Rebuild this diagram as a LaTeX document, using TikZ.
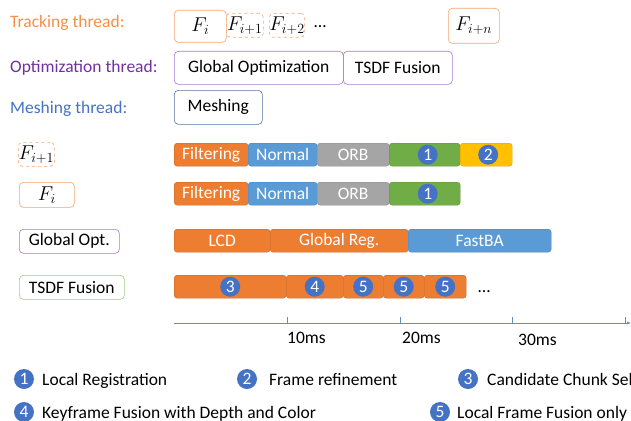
\RequirePackage{fix-cm}
\documentclass[tikz,border=0pt]{standalone}
\usepackage{fontspec}
\setmainfont{Carlito}
\usepackage{amsmath}
\usetikzlibrary{positioning,arrows.meta}

\definecolor{trkorange}{RGB}{244,142,72}
\definecolor{boxorange}{RGB}{244,165,110}
\definecolor{optpurple}{RGB}{112,48,160}
\definecolor{boxpurple}{RGB}{166,120,210}
\definecolor{meshblue}{RGB}{68,114,196}
\definecolor{boxslate}{RGB}{88,118,158}
\definecolor{boxgreen}{RGB}{160,205,130}
\definecolor{barorange}{RGB}{237,125,49}
\definecolor{barblue}{RGB}{91,155,213}
\definecolor{bargray}{RGB}{165,165,165}
\definecolor{bargreen}{RGB}{112,173,71}
\definecolor{baryellow}{RGB}{255,192,0}
\definecolor{numblue}{RGB}{68,114,196}
\definecolor{axisblue}{RGB}{100,140,200}

\tikzset{
  frame/.style={draw=#1,semithick,rounded corners=4pt,inner sep=0pt,anchor=north west},
  bar/.style={draw=#1!85!black,fill=#1,text=white,rounded corners=3pt,inner sep=0pt,
    minimum height=23,anchor=north west},
  numdot/.style={circle,fill=numblue,text=white,inner sep=0pt,minimum size=20},
  lbl/.style={anchor=base west,inner sep=0pt},
  mathbig/.style={font=\fontsize{20}{24}\selectfont}
}

\begin{document}
\begin{tikzpicture}[x=1pt,y=-1pt,font=\fontsize{17.5}{21}\selectfont]
  \useasboundingbox (0,0) rectangle (631,420);
  \clip (0,0) rectangle (631,420);

  % thread labels
  \node[lbl,text=trkorange] (trk) at (10,28) {Tracking thread:};
  \node[lbl,text=optpurple] (opt) at (10,72) {Optimization thread:};
  \node[lbl,text=meshblue] (msh) at (10,113) {Meshing thread:};

  % threads
  \begin{scope}[every node/.style={frame=boxorange,mathbig}]
    \node[minimum width=52,minimum height=32] (fi) at (174,10) {$F_i$};
    \node[dashed,minimum width=37,minimum height=24] (fi1) at (226,13) {$F_{i+1}$};
    \node[dashed,minimum width=34,minimum height=24] (fi2) at (269,13) {$F_{i+2}$};
    \node[minimum width=51,minimum height=35] (fin) at (448,8) {$F_{i+n}$};
  \end{scope}
  \node[lbl] (tdots) at (314,28) {\dots};
  \begin{scope}[every node/.style={frame=boxpurple,minimum height=33}]
    \node[minimum width=169] (gopt) at (174,51) {Global Optimization};
    \node[minimum width=109] (tsdf) at (343,51) {TSDF Fusion};
  \end{scope}
  \node[frame=boxslate,minimum width=88,minimum height=34] (mesh) at (174,90) {Meshing};

  % row labels
  \node[frame=boxorange,mathbig,dashed,minimum width=36,minimum height=24] (rfi1) at (18,142) {$F_{i+1}$};
  \node[frame=boxorange,mathbig,minimum width=55,minimum height=25] (rfi) at (19,182) {$F_i$};
  \node[frame=boxpurple,minimum width=100,minimum height=24] (rgo) at (19,229) {Global Opt.};
  \node[frame=boxgreen,minimum width=105,minimum height=24] (rts) at (19,275) {TSDF Fusion};

  % F_{i+1}
  \node[bar=barorange,minimum width=74] (a1) at (174,143) {Filtering};
  \node[bar=barblue,minimum width=69] (a2) at (248,143) {Normal};
  \node[bar=bargray,minimum width=72] (a3) at (317,143) {ORB};
  \node[bar=bargreen,minimum width=71] (a4) at (389,143) {};
  \node[bar=baryellow,minimum width=52] (a5) at (460,143) {};
  \node[numdot] (na4) at ([xshift=3]a4.center) {1};
  \node[numdot] (na5) at ([xshift=2]a5.center) {2};

  % F_i
  \node[bar=barorange,minimum width=74] (b1) at (174,182) {Filtering};
  \node[bar=barblue,minimum width=69] (b2) at (248,182) {Normal};
  \node[bar=bargray,minimum width=72] (b3) at (317,182) {ORB};
  \node[bar=bargreen,minimum width=71] (b4) at (389,182) {};
  \node[numdot] (nb4) at ([xshift=3]b4.center) {1};

  % Global Opt.
  \node[bar=barorange,minimum width=96] (c1) at (174,229) {LCD};
  \node[bar=barorange,minimum width=138] (c2) at (270,229) {Global Reg.};
  \node[bar=barblue,minimum width=143] (c3) at (408,229) {FastBA};

  % TSDF Fusion
  \node[bar=barorange,minimum width=112] (d1) at (174,275) {};
  \node[bar=barorange,minimum width=57] (d2) at (286,275) {};
  \node[bar=barorange,minimum width=40] (d3) at (343,275) {};
  \node[bar=barorange,minimum width=41] (d4) at (383,275) {};
  \node[bar=barorange,minimum width=42] (d5) at (424,275) {};
  \node[numdot] (nd1) at (d1.center) {3};
  \node[numdot] (nd2) at (d2.center) {4};
  \node[numdot] (nd3) at (d3.center) {5};
  \node[numdot] (nd4) at (d4.center) {5};
  \node[numdot] (nd5) at (d5.center) {5};
  \node[lbl] (ddots) at (478,292) {\dots};

  % time axis
  \coordinate (ax0) at (174,323);
  \coordinate (ax1) at (631,323);
  \draw[axisblue,semithick,-{Latex[length=4pt]}] (ax0) -- (ax1);
  \foreach \t/\x in {10/287,20/400,30/512,40/625}
    \draw[axisblue,semithick] (\x,323) -- (\x,317);
  \node[lbl] (t10) at (287,343) {10ms};
  \node[lbl] (t20) at (402,343) {20ms};
  \node[lbl] (t30) at (518,345) {30ms};

  % legend
  \node[numdot] (l1) at (24,379) {1};
  \node[lbl] (l1t) at (42,385) {Local Registration};
  \node[numdot] (l2) at (247,379) {2};
  \node[lbl] (l2t) at (269,385) {Frame refinement};
  \node[numdot] (l3) at (468,379) {3};
  \node[lbl] (l3t) at (487,385) {Candidate Chunk Selection};
  \node[numdot] (l4) at (24,412) {4};
  \node[lbl] (l4t) at (42,418) {Keyframe Fusion with Depth and Color};
  \node[numdot] (l5) at (440,412) {5};
  \node[lbl] (l5t) at (457,418) {Local Frame Fusion only};
\end{tikzpicture}
\end{document}
